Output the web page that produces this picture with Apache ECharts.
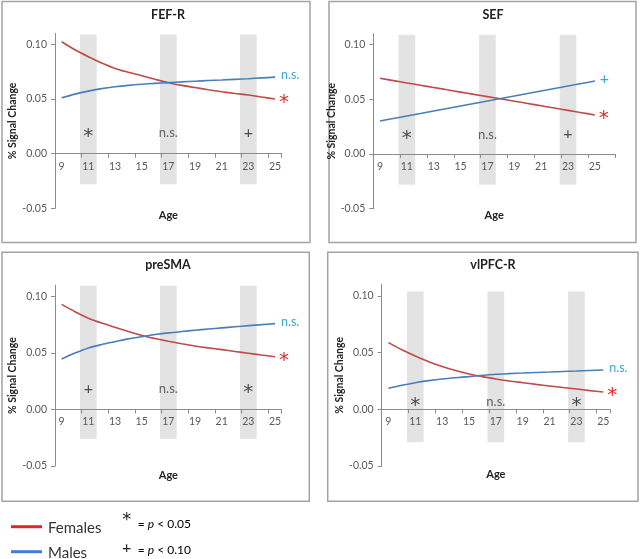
<!DOCTYPE html>
<html><head><meta charset="utf-8">
<script src="https://cdn.jsdelivr.net/npm/echarts@6/dist/echarts.min.js"></script>
<style>html,body{margin:0;padding:0;background:#fff}#c{width:640px;height:559px}</style>
</head><body><div id="c"></div>
<script>
// ---------- data ----------
const ages = ['9','10','11','12','13','14','15','16','17','18','19','20','21','22','23','24','25'];
const agesSEF = ['9','10','11','12','13','14','15','16','17','18','19','20','21','22','23','24','25','26'];

const fefFemales = [0.1024,0.0950,0.0887,0.0830,0.0780,0.0745,0.0713,0.0680,0.0649,0.0625,0.0605,0.0585,0.0567,0.0551,0.0537,0.0518,0.0500];
const fefMales   = [0.0512,0.0545,0.0572,0.0595,0.0612,0.0625,0.0635,0.0643,0.0650,0.0657,0.0663,0.0669,0.0674,0.0680,0.0686,0.0693,0.0700];

const sefFemales = [0.0692,0.0671,0.0650,0.0629,0.0608,0.0587,0.0566,0.0545,0.0525,0.0504,0.0483,0.0462,0.0441,0.0420,0.0399,0.0378,0.0357];
const sefMales   = [0.0302,0.0325,0.0348,0.0370,0.0393,0.0416,0.0439,0.0462,0.0485,0.0507,0.0530,0.0553,0.0576,0.0599,0.0622,0.0644,0.0667];

const presmaFemales = [0.0930,0.0865,0.0808,0.0765,0.0728,0.0690,0.0655,0.0628,0.0604,0.0582,0.0562,0.0545,0.0530,0.0513,0.0498,0.0482,0.0467];
const presmaMales   = [0.0447,0.0500,0.0545,0.0575,0.0600,0.0625,0.0645,0.0663,0.0678,0.0690,0.0701,0.0712,0.0722,0.0732,0.0742,0.0751,0.0760];

const vlpfcFemales = [0.0588,0.0525,0.0470,0.0420,0.0378,0.0342,0.0312,0.0288,0.0268,0.0250,0.0235,0.0220,0.0206,0.0192,0.0179,0.0165,0.0152];
const vlpfcMales   = [0.0185,0.0212,0.0235,0.0253,0.0268,0.0279,0.0288,0.0299,0.0309,0.0315,0.0320,0.0325,0.0329,0.0334,0.0338,0.0343,0.0347];

const titles = ['FEF-R','SEF','preSMA','vlPFC-R'];
const sigAges = ['11','17','23'];
const fefSig = ['*','n.s.','+'];
const sefSig = ['*','n.s.','+'];
const presmaSig = ['+','n.s.','*'];
const vlpfcSig = ['*','n.s.','*'];
const femaleEnd = ['*','*','*','*'];
const maleEnd = ['n.s.','+','n.s.','n.s.'];
const sigLevel = [0.019, 0.018, 0.018, 0.007];
const shadeTop = [0.109, 0.109, 0.1095, 0.104];
const shadeBottom = [-0.028, -0.028, -0.026, -0.029];
const yTicks = [-0.05, 0, 0.05, 0.10];
const yMin = -0.05, yMax = 0.11;

// ---------- layout ----------
const FONT = 'Lato, "Open Sans", sans-serif';
const STAR_FONT = '"DejaVu Sans", Lato, sans-serif';
const panels = [
  {cats: ages,    f: fefFemales,    m: fefMales,    sig: fefSig,    grid:{left:55,    top:33.4,  width:226.7, height:175},   nameGapY:35, nameGapX:56, title:[168,15],  box:[2,1.5,308,241]},
  {cats: agesSEF, f: sefFemales,    m: sefMales,    sig: sefSig,    grid:{left:373.3, top:33.7,  width:241.7, height:175},   nameGapY:27, nameGapX:56, title:[493,15],  box:[329,1.5,307,241]},
  {cats: ages,    f: presmaFemales, m: presmaMales, sig: presmaSig, grid:{left:55,    top:285.2, width:226.7, height:180.8}, nameGapY:35, nameGapX:60, title:[168,265], box:[2,252.3,307.3,249]},
  {cats: ages,    f: vlpfcFemales,  m: vlpfcMales,  sig: vlpfcSig,  grid:{left:381.7, top:284.6, width:228.3, height:181.4}, nameGapY:34, nameGapX:60, title:[493,265], box:[327.7,252.3,310.3,249]}
];

const LINE_RED = '#BE4B48', LINE_BLUE = '#4A7EBB';
const AXIS_C = '#8C8C8C', LABEL_C = '#595959';

const grids = [], xAxes = [], yAxes = [], series = [], graphics = [];

function sigStyle(t){
  if (t === '*') return {fontSize: 20, offset:[0,4], color:'#222', fontFamily:STAR_FONT};
  if (t === '+') return {fontSize: 16, offset:[0,0], color:'#222', fontFamily:FONT};
  return {fontSize: 13, offset:[0,0], color:'#404040', fontFamily:FONT};
}
function endStyle(t, color){
  if (t === '*') return {formatter:t, color:color, fontSize:20, offset:[0,4], distance:4, fontFamily:STAR_FONT};
  if (t === '+') return {formatter:t, color:color, fontSize:16, offset:[0,-2], distance:5, fontFamily:FONT};
  return {formatter:t, color:color, fontSize:12.5, offset:[0,-2], distance:6, fontFamily:FONT};
}

panels.forEach((p, i) => {
  grids.push(Object.assign({containLabel:false}, p.grid));
  const zeroOffset = -p.grid.height * (0 - yMin) / (yMax - yMin);
  xAxes.push({
    type:'category', gridIndex:i, data:p.cats, boundaryGap:true, position:'bottom', offset:zeroOffset,
    name:'Age', nameLocation:'middle', nameGap:p.nameGapX,
    nameTextStyle:{fontFamily:FONT, fontWeight:'bold', fontSize:11, color:'#222'},
    axisLine:{onZero:false, lineStyle:{color:AXIS_C, width:1}},
    axisTick:{show:true, interval:1, length:4, lineStyle:{color:AXIS_C}},
    axisLabel:{interval:1, fontFamily:FONT, fontSize:10.5, color:LABEL_C, margin:7},
    splitLine:{show:false}
  });
  yAxes.push({
    type:'value', gridIndex:i, min:yMin, max:yMax,
    name:'% Signal Change', nameLocation:'middle', nameRotate:90, nameGap:p.nameGapY,
    nameTextStyle:{fontFamily:FONT, fontWeight:'bold', fontSize:10.5, color:'#222'},
    axisLine:{show:true, onZero:false, lineStyle:{color:AXIS_C, width:1}},
    axisTick:{show:true, length:4, customValues:yTicks, lineStyle:{color:AXIS_C}},
    axisLabel:{customValues:yTicks, fontFamily:FONT, fontSize:10.5, color:LABEL_C, margin:8,
      formatter:v => v.toFixed(2)},
    splitLine:{show:false}
  });
  series.push({
    type:'bar', xAxisIndex:i, yAxisIndex:i, silent:true, z:-1,
    barWidth:16.7, barGap:'-100%',
    itemStyle:{color:'#E3E3E3'},
    data:p.cats.map(c => sigAges.includes(c) ? shadeTop[i] : '-')
  });
  series.push({
    type:'bar', xAxisIndex:i, yAxisIndex:i, silent:true, z:-1,
    barWidth:16.7, barGap:'-100%',
    itemStyle:{color:'#E3E3E3'},
    data:p.cats.map(c => sigAges.includes(c) ? shadeBottom[i] : '-')
  });
  series.push({
    name:'Females', type:'line', xAxisIndex:i, yAxisIndex:i, data:p.f,
    symbol:'none', smooth:0.3, lineStyle:{color:LINE_RED, width:1.6}, itemStyle:{color:LINE_RED},
    endLabel:Object.assign({show:true}, endStyle(femaleEnd[i], '#E5282B'))
  });
  series.push({
    name:'Males', type:'line', xAxisIndex:i, yAxisIndex:i, data:p.m,
    symbol:'none', smooth:0.3, lineStyle:{color:LINE_BLUE, width:1.6}, itemStyle:{color:LINE_BLUE},
    endLabel:Object.assign({show:true}, endStyle(maleEnd[i], '#3FA6CF'))
  });
  series.push({
    type:'scatter', xAxisIndex:i, yAxisIndex:i, symbolSize:0, silent:true,
    data:sigAges.map((a, k) => {
      const s = sigStyle(p.sig[k]);
      return {value:[a, sigLevel[i]], label:{show:true, position:'inside', formatter:p.sig[k],
        fontFamily:s.fontFamily, fontSize:s.fontSize, color:s.color, offset:s.offset}};
    })
  });
  graphics.push({type:'rect', shape:{x:p.box[0], y:p.box[1], width:p.box[2], height:p.box[3]},
    style:{fill:'none', stroke:'#A3A3A3', lineWidth:1.5}, silent:true, z:-10});
  graphics.push({type:'text', x:p.title[0], y:p.title[1],
    style:{text:titles[i], fontFamily:FONT, fontWeight:'bold', fontSize:12.5, fill:'#222', align:'center', verticalAlign:'middle'}});
});

// legend (drawn as graphics)
graphics.push(
  {type:'line', shape:{x1:11, y1:526.7, x2:42, y2:526.7}, style:{stroke:'#E3262B', lineWidth:3}},
  {type:'text', x:48, y:528, style:{text:'Females', fontFamily:FONT, fontSize:15, fill:'#333', verticalAlign:'middle'}},
  {type:'line', shape:{x1:11, y1:551.7, x2:42, y2:551.7}, style:{stroke:'#3B7DD8', lineWidth:3}},
  {type:'text', x:48, y:553, style:{text:'Males', fontFamily:FONT, fontSize:15, fill:'#333', verticalAlign:'middle'}},
  {type:'text', x:126.7, y:520, style:{text:'*', fontFamily:STAR_FONT, fontSize:18, fill:'#222', align:'center', verticalAlign:'middle'}},
  {type:'text', x:137.7, y:524, style:{text:'{a|= }{p|p}{a| < 0.05}', fontFamily:FONT, verticalAlign:'middle',
    rich:{a:{fontFamily:FONT, fontSize:12, color:'#222'}, p:{fontFamily:FONT, fontSize:12, fontStyle:'italic', color:'#222'}}}},
  {type:'text', x:126.7, y:548.3, style:{text:'+', fontFamily:FONT, fontSize:16, fill:'#222', align:'center', verticalAlign:'middle'}},
  {type:'text', x:137.7, y:550, style:{text:'{a|= }{p|p}{a| < 0.10}', fontFamily:FONT, verticalAlign:'middle',
    rich:{a:{fontFamily:FONT, fontSize:12, color:'#222'}, p:{fontFamily:FONT, fontSize:12, fontStyle:'italic', color:'#222'}}}}
);

const chart = echarts.init(document.getElementById('c'), null, {renderer:'canvas'});
chart.setOption({
  animation:false,
  backgroundColor:'#fff',
  grid:grids, xAxis:xAxes, yAxis:yAxes, series:series, graphic:graphics
});
</script></body></html>
